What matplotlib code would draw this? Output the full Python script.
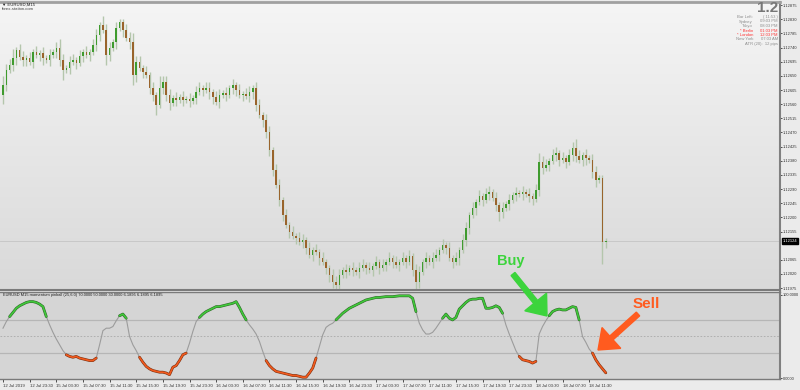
import numpy as np
import matplotlib
matplotlib.use("Agg")
from matplotlib import pyplot as plt
from matplotlib import patheffects as pe
from matplotlib.colors import LinearSegmentedColormap
from matplotlib.patches import FancyArrow
from matplotlib.transforms import blended_transform_factory, IdentityTransform

# EURUSD M15 closes (one candle per half hour), 12 Jul 19:30 .. 18 Jul 14:00
closes = [
    1.12621, 1.12668, 1.12684, 1.12706, 1.12732, 1.12710, 1.12700, 1.12706, 1.12694, 1.12726,
    1.12716, 1.12722, 1.12706, 1.12700, 1.12716, 1.12726, 1.12738, 1.12700, 1.12668, 1.12675,
    1.12694, 1.12700, 1.12691, 1.12713, 1.12726, 1.12716, 1.12726, 1.12748, 1.12780, 1.12811,
    1.12795, 1.12716, 1.12738, 1.12757, 1.12802, 1.12821, 1.12795, 1.12770, 1.12757, 1.12652,
    1.12694, 1.12675, 1.12662, 1.12652, 1.12611, 1.12589, 1.12557, 1.12611, 1.12630, 1.12589,
    1.12563, 1.12579, 1.12573, 1.12582, 1.12573, 1.12576, 1.12570, 1.12579, 1.12598, 1.12611,
    1.12605, 1.12611, 1.12598, 1.12582, 1.12567, 1.12589, 1.12595, 1.12589, 1.12611, 1.12621,
    1.12605, 1.12589, 1.12592, 1.12586, 1.12598, 1.12611, 1.12557, 1.12525, 1.12509, 1.12471,
    1.12414, 1.12350, 1.12303, 1.12255, 1.12207, 1.12175, 1.12153, 1.12140, 1.12134, 1.12121,
    1.12128, 1.12102, 1.12080, 1.12096, 1.12090, 1.12070, 1.12058, 1.12039, 1.12016, 1.11994,
    1.11985, 1.12016, 1.12032, 1.12026, 1.12039, 1.12032, 1.12026, 1.12039, 1.12048, 1.12039,
    1.12032, 1.12045, 1.12058, 1.12039, 1.12048, 1.12058, 1.12070, 1.12058, 1.12048, 1.12058,
    1.12070, 1.12058, 1.12077, 1.12032, 1.11994, 1.12026, 1.12058, 1.12070, 1.12058, 1.12070,
    1.12080, 1.12096, 1.12112, 1.12102, 1.12070, 1.12058, 1.12070, 1.12096, 1.12128, 1.12166,
    1.12207, 1.12229, 1.12249, 1.12268, 1.12255, 1.12274, 1.12280, 1.12261, 1.12239, 1.12217,
    1.12229, 1.12242, 1.12255, 1.12271, 1.12277, 1.12274, 1.12280, 1.12274, 1.12268, 1.12258,
    1.12287, 1.12376, 1.12357, 1.12366, 1.12379, 1.12398, 1.12404, 1.12382, 1.12388, 1.12376,
    1.12398, 1.12420, 1.12395, 1.12382, 1.12398, 1.12388, 1.12382, 1.12344, 1.12318, 1.12325,
    1.12121, 1.12124,
]
first_open = 1.12590

# shadow lengths above / below the body, in pips
wick_up = [
    3, 2, 2, 3, 1, 2, 2, 1, 2, 1, 2, 1, 2, 1, 2, 1, 2, 3, 2, 1,
    2, 2, 1, 2, 1, 2, 1, 2, 2, 1, 3, 2, 2, 1, 2, 1, 1, 2, 2, 3,
    2, 2, 1, 2, 1, 2, 1, 4, 2, 2, 2, 1, 2, 1, 2, 1, 2, 1, 2, 2,
    1, 2, 2, 1, 2, 2, 1, 2, 1, 2, 1, 2, 1, 2, 2, 1, 2, 2, 1, 2,
    2, 1, 2, 2, 1, 2, 1, 2, 1, 2, 2, 1, 2, 1, 2, 1, 2, 1, 1, 2,
    2, 2, 1, 2, 1, 2, 1, 2, 2, 1, 2, 1, 2, 1, 2, 1, 2, 1, 2, 1,
    2, 1, 2, 1, 2, 2, 1, 2, 1, 2, 2, 1, 2, 1, 2, 1, 2, 1, 2, 2,
    1, 2, 1, 2, 1, 2, 2, 1, 2, 1, 2, 1, 2, 1, 2, 1, 2, 1, 2, 1,
    2, 3, 2, 2, 1, 2, 2, 1, 2, 1, 2, 2, 3, 2, 1, 2, 1, 2, 2, 1,
    1, 1,
]
wick_dn = [
    3, 2, 1, 2, 2, 1, 2, 2, 1, 2, 1, 2, 2, 1, 2, 1, 2, 2, 3, 1,
    2, 1, 2, 1, 2, 1, 2, 1, 2, 2, 1, 3, 2, 1, 2, 1, 2, 1, 2, 3,
    2, 1, 2, 1, 2, 2, 3, 1, 2, 2, 2, 1, 2, 1, 2, 1, 2, 1, 2, 1,
    2, 1, 2, 2, 1, 2, 1, 2, 1, 2, 2, 1, 2, 1, 2, 2, 2, 1, 2, 2,
    2, 2, 1, 2, 2, 1, 2, 1, 2, 1, 2, 2, 1, 2, 1, 2, 1, 2, 2, 2,
    3, 2, 1, 2, 1, 2, 1, 2, 1, 2, 1, 2, 1, 2, 1, 2, 1, 2, 1, 2,
    1, 2, 1, 2, 3, 2, 1, 2, 1, 2, 1, 2, 1, 2, 1, 2, 1, 2, 1, 2,
    2, 1, 2, 1, 2, 1, 2, 1, 2, 3, 2, 1, 2, 1, 2, 1, 2, 1, 2, 2,
    1, 2, 2, 1, 2, 1, 2, 2, 1, 2, 1, 2, 2, 1, 2, 2, 1, 2, 2, 1,
    7, 2,
]

# momentum pinball (25, 6.0), one value per candle
momentum = [
    60, 68, 74, 79, 84, 87, 89, 91, 92, 92,
    91, 89, 86, 74, 64, 55, 47, 40, 33, 28,
    26, 25, 26, 24, 23, 22, 21, 21, 24, 40,
    57, 60, 60, 62, 69, 75, 77, 72, 50, 40,
    33, 25, 19, 14, 11, 9, 8, 7, 7, 6,
    4, 13, 15, 21, 28, 30, 42, 56, 68, 73,
    77, 80, 82, 84, 86, 86, 87, 88, 89, 90,
    92, 85, 77, 70, 64, 59, 53, 44, 32, 21,
    15, 11, 8, 7, 6, 5, 4, 3, 3, 2,
    1, 1, 6, 12, 24, 38, 52, 61, 64, 66,
    70, 74, 78, 81, 84, 86, 88, 90, 92, 94,
    95, 96, 97, 97, 97.5, 98, 98, 98, 98.5, 99,
    99, 99, 99, 96, 80, 66, 58, 53, 53, 55,
    60, 66, 72, 77, 72, 70, 73, 83, 87, 91,
    94, 95, 95, 96, 96, 84, 84, 85, 87, 85,
    78, 64, 53, 43, 33, 26, 22, 21, 20, 18,
    20, 53, 62, 69, 75, 80, 82, 83, 82, 82,
    84, 86, 85, 70, 50, 43, 35, 30, 22, 16,
    11, 6.19,
]

time_labels = [
    "12 Jul 2019", "12 Jul 23:30", "15 Jul 03:30", "15 Jul 07:30", "15 Jul 11:30",
    "15 Jul 15:30", "15 Jul 19:30", "15 Jul 23:30", "16 Jul 03:30", "16 Jul 07:30",
    "16 Jul 11:30", "16 Jul 15:30", "16 Jul 19:30", "16 Jul 23:30", "17 Jul 03:30",
    "17 Jul 07:30", "17 Jul 11:30", "17 Jul 15:30", "17 Jul 19:30", "17 Jul 23:30",
    "18 Jul 03:30", "18 Jul 07:30", "18 Jul 11:30",
]
price_ticks = [
    1.12875, 1.12830, 1.12785, 1.12740, 1.12695, 1.12650, 1.12605, 1.12560, 1.12515,
    1.12470, 1.12425, 1.12380, 1.12335, 1.12290, 1.12245, 1.12200, 1.12155,
    1.12065, 1.12020, 1.11975,
]
last_price = 1.12124
levels = [70, 50, 30]

info_rows = [
    ("Bar Left:", "( 11:53 )", "#8c8c8c"),
    ("Sydney", "09:03 PM", "#8c8c8c"),
    ("Tokyo", "08:03 PM", "#8c8c8c"),
    ("* Berlin", "01:03 PM", "#ff3333"),
    ("* London", "12:03 PM", "#ff3333"),
    ("New York", "07:03 AM", "#8c8c8c"),
]
atr_text = "ATR (20):  12 pips"
spread_text = "1.2"


def fx(x):
    return x / 800.0


def fy(y):
    return 1 - y / 390.0


def main():
    plt.rcParams["font.family"] = ["Liberation Sans", "DejaVu Sans"]
    n = len(closes)
    x = np.arange(n)
    c = np.array(closes)
    o = np.array([first_open] + closes[:-1])
    hi = np.maximum(o, c) + np.array(wick_up) * 0.0001
    lo = np.minimum(o, c) - np.array(wick_dn) * 0.0001

    fig = plt.figure(figsize=(8, 3.9), dpi=100, facecolor="#ebebeb")

    # price window
    ax = fig.add_axes([0, fy(290), fx(780), (290 - 2) / 390.0])
    grad = np.linspace(0, 1, 256).reshape(-1, 1)
    cmap = LinearSegmentedColormap.from_list("bg", ["#f5f5f5", "#d9d9d9"])
    ax.imshow(grad, cmap=cmap, aspect="auto", extent=[0, 1, 0, 1],
              transform=ax.transAxes, zorder=0)
    ax.axhline(last_price, color="#c4c4c4", lw=0.6, zorder=1)
    ax.vlines(x, lo, hi, color="#b4c6ac", lw=1.0, zorder=2)
    bull = c >= o
    body = np.maximum(np.abs(c - o), 0.00003)
    ax.bar(x, body, bottom=np.minimum(o, c), width=0.45,
           color=np.where(bull, "#3f9b2e", "#99642c"), lw=0, zorder=3)
    ax.set_xlim(-0.9, 233.3)
    ax.set_ylim(1.11969, 1.12885)
    ax.set_xticks([])
    ax.yaxis.tick_right()
    ax.set_yticks(price_ticks)
    ax.set_yticklabels(["%.5f" % p for p in price_ticks])
    ax.tick_params(axis="y", direction="out", length=1.5, width=0.6, pad=0.6,
                   labelsize=2.9, colors="#333333")
    ax.spines["left"].set_visible(False)
    ax.spines["right"].set_color("#808080")
    ax.spines["right"].set_linewidth(1.5)
    ax.spines["bottom"].set_color("#7a7a7a")
    ax.spines["bottom"].set_linewidth(1.5)
    ax.spines["top"].set_color("#a0a0a0")
    ax.spines["top"].set_linewidth(2)
    tr = blended_transform_factory(ax.transAxes, ax.transData)
    ax.text(1.003, last_price, "%.5f" % last_price, transform=tr, fontsize=2.9,
            color="white", va="center", ha="left", clip_on=False,
            bbox=dict(boxstyle="square,pad=0.2", fc="black", ec="black"))

    # indicator window
    ax2 = fig.add_axes([0, fy(379), fx(780), (379 - 292) / 390.0])
    ax2.set_facecolor("#d5d5d5")
    for lv in levels:
        if lv == 50:
            ax2.axhline(lv, color="#a9a9a9", lw=0.6, ls=(0, (2, 2)))
        else:
            ax2.axhline(lv, color="#b6b6b6", lw=0.9)
    m = np.array(momentum, dtype=float)
    ax2.plot(x, m, color="#9c9c9c", lw=0.8, zorder=2)
    green = np.where(m >= 70, m, np.nan)
    red = np.where(m <= 30, m, np.nan)
    ax2.plot(x, green, color="#40c83a", lw=1.2, zorder=3, solid_capstyle="round",
             path_effects=[pe.Stroke(linewidth=2.0, foreground="#2f6a28"), pe.Normal()])
    ax2.plot(x, red, color="#f25a1e", lw=1.2, zorder=3, solid_capstyle="round",
             path_effects=[pe.Stroke(linewidth=2.0, foreground="#7a3010"), pe.Normal()])
    ax2.set_xlim(-0.9, 233.3)
    ax2.set_ylim(-1.2, 103.6)
    ax2.yaxis.tick_right()
    ax2.set_yticks([100, 0])
    ax2.set_yticklabels(["100.0000", "0.0000"])
    ax2.tick_params(axis="y", direction="out", length=1.5, width=0.6, pad=0.6,
                    labelsize=2.9, colors="#333333")
    ax2.set_xticks(range(0, n, 8))
    ax2.set_xticklabels(time_labels)
    ax2.tick_params(axis="x", direction="out", length=2, width=0.6, pad=1.5,
                    labelsize=3.1, colors="#333333")
    for lbl in ax2.get_xticklabels():
        lbl.set_ha("left")
    ax2.spines["left"].set_visible(False)
    ax2.spines["right"].set_color("#808080")
    ax2.spines["right"].set_linewidth(1.5)
    ax2.spines["top"].set_color("#7a7a7a")
    ax2.spines["top"].set_linewidth(1.0)
    ax2.spines["bottom"].set_color("#7a7a7a")
    ax2.spines["bottom"].set_linewidth(1.0)
    ax2.text(0.004, 0.985, "EURUSD M15 momentum pinball (25,6.0) 70.0000 50.0000 30.0000 "
             "6.1895 6.1895 6.1895", transform=ax2.transAxes, fontsize=2.9,
             color="#1e1e1e", va="top", ha="left")

    # chart captions
    fig.text(fx(2), fy(5), "\u25bc EURUSD,M15", fontsize=3.1, color="#222222", va="center")
    fig.text(fx(2), fy(9.5), "forex-station.com", fontsize=3.1, color="#444444", va="center")
    fig.text(fx(778), fy(12), spread_text, fontsize=11, color="#777777",
             fontweight="bold", ha="right", va="baseline")
    for k, (lab, val, col) in enumerate(info_rows):
        yy = 17 + 4.5 * k
        fig.text(fx(753), fy(yy), lab, fontsize=3.0, color=col, ha="right", va="center")
        fig.text(fx(778), fy(yy), val, fontsize=3.0, color=col, ha="right", va="center")
    fig.text(fx(778), fy(44), atr_text, fontsize=3.0, color="#8c8c8c", ha="right", va="center")

    # Buy / Sell callouts
    fig.text(fx(511), fy(265), "Buy", fontsize=10.5, fontweight="bold", color="#3cd43c",
             ha="center", va="baseline")
    fig.text(fx(646), fy(308), "Sell", fontsize=11, fontweight="bold", color="#ff5b1f",
             ha="center", va="baseline")
    H = 390
    fig.add_artist(FancyArrow(513, H - 274, 34, -42, width=5, head_width=28, head_length=18,
                              length_includes_head=True, color="#3cd43c",
                              transform=IdentityTransform()))
    fig.add_artist(FancyArrow(638, H - 314, -40, -36, width=5, head_width=28, head_length=18,
                              length_includes_head=True, color="#ff5b1f",
                              transform=IdentityTransform()))

    fig.savefig("out.png", dpi=100, facecolor=fig.get_facecolor())


if __name__ == "__main__":
    main()
